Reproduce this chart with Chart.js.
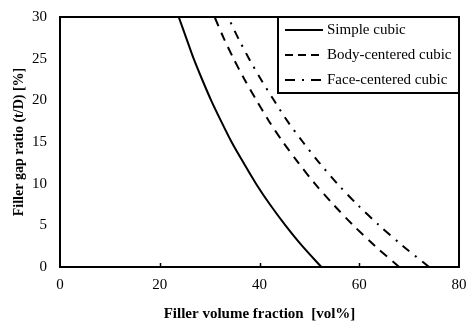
<!DOCTYPE html>
<html>
<head>
<meta charset="utf-8">
<script src="https://cdn.jsdelivr.net/npm/chart.js@4.4.0/dist/chart.umd.min.js"></script>
<style>
  html, body { margin: 0; padding: 0; background: #fff; }
  #wrap { width: 467px; height: 322px; }
</style>
</head>
<body>
<div id="wrap"><canvas id="grafico"></canvas></div>
<script>
// valores: relacion de separacion (t/D) [%]
const gapRatio = [0, 2.5, 5, 7.5, 10, 12.5, 15, 17.5, 20, 22.5, 25, 27.5, 30];
// fraccion de volumen [vol%] para cada estructura
const simpleCubic = [52.4, 48.6, 45.2, 42.1, 39.3, 36.8, 34.4, 32.3, 30.3, 28.5, 26.8, 25.3, 23.8];
const bodyCentered = [68.0, 63.2, 58.8, 54.8, 51.1, 47.8, 44.7, 41.9, 39.4, 37.0, 34.8, 32.8, 31.0];
const faceCentered = [74.0, 68.8, 64.0, 59.6, 55.6, 52.0, 48.7, 45.6, 42.9, 40.3, 37.9, 35.7, 33.7];
const seriesNames = ['Simple cubic', 'Body-centered cubic', 'Face-centered cubic'];
const xTicks = [0, 20, 40, 60, 80];
const yTicks = [0, 5, 10, 15, 20, 25, 30];

const fuente = '"Liberation Serif", "Times New Roman", serif';
const dashes = [[], [9, 7], [9, 7, 2, 7]];
const dashesLeyenda = [[], [8, 5], [10, 7, 2, 7]];

function puntos(xs){
    return xs.map((x, i) => ({ x: x, y: gapRatio[i] }));
}

// marco, marcas interiores y leyenda con borde
const marcoPlugin = {
    id: 'marco',
    afterDraw(chart){
        const ctx = chart.ctx;
        const a = chart.chartArea;
        const xs = chart.scales.x;
        ctx.save();
        ctx.strokeStyle = '#000';
        ctx.lineWidth = 2;
        ctx.setLineDash([]);
        ctx.strokeRect(a.left, a.top, a.right - a.left, a.bottom - a.top);
        ctx.lineWidth = 1.5;
        xTicks.slice(1, -1).forEach(v => {
            const px = Math.round(xs.getPixelForValue(v)) + 0.5;
            ctx.beginPath();
            ctx.moveTo(px, a.bottom);
            ctx.lineTo(px, a.bottom - 4);
            ctx.stroke();
        });
        // leyenda
        const lx = 278, ly = a.top, lw = a.right - lx, lh = 76;
        ctx.fillStyle = '#fff';
        ctx.fillRect(lx, ly, lw, lh);
        ctx.lineWidth = 2;
        ctx.strokeRect(lx, ly, lw, lh);
        ctx.font = '15px ' + fuente;
        ctx.textBaseline = 'middle';
        ctx.fillStyle = '#000';
        seriesNames.forEach((n, i) => {
            const y = ly + 13 + i * 25;
            ctx.setLineDash(dashesLeyenda[i]);
            ctx.lineWidth = 2;
            ctx.beginPath();
            ctx.moveTo(285, y);
            ctx.lineTo(323, y);
            ctx.stroke();
            ctx.setLineDash([]);
            ctx.fillText(n, 327, y);
        });
        ctx.restore();
    }
};

const datasets = [simpleCubic, bodyCentered, faceCentered].map((d, i) => ({
    label: seriesNames[i],
    data: puntos(d),
    borderColor: '#000',
    borderWidth: 2,
    borderDash: dashes[i],
    pointRadius: 0,
    showLine: true,
    tension: 0.3,
    fill: false
}));

new Chart(document.getElementById('grafico'), {
    type: 'scatter',
    data: { datasets: datasets },
    options: {
        responsive: true,
        maintainAspectRatio: false,
        animation: false,
        layout: { padding: { top: 17, right: 8, left: 0, bottom: 0 } },
        plugins: {
            legend: { display: false },
            tooltip: { enabled: false }
        },
        scales: {
            x: {
                type: 'linear',
                min: 0, max: 80,
                afterBuildTicks(s){ s.ticks = xTicks.map(v => ({ value: v })); },
                grid: { display: false },
                border: { display: false },
                ticks: { color: '#000', font: { family: fuente, size: 15 }, padding: 1, maxRotation: 0 },
                title: {
                    display: true,
                    text: 'Filler volume fraction  [vol%]',
                    color: '#000',
                    font: { family: fuente, size: 15, weight: 'bold' },
                    padding: { top: 10, bottom: -1 }
                },
                afterFit(s){
                    s.height = 55;
                    s.paddingLeft = 0;
                    s.paddingRight = 0;
                }
            },
            y: {
                type: 'linear',
                min: 0, max: 30,
                afterBuildTicks(s){ s.ticks = yTicks.map(v => ({ value: v })); },
                grid: { display: false },
                border: { display: false },
                ticks: { color: '#000', font: { family: fuente, size: 15 }, padding: 5 },
                title: {
                    display: true,
                    text: 'Filler gap ratio (t/D) [%]',
                    color: '#000',
                    font: { family: fuente, size: 14, weight: 'bold' },
                    padding: { top: 11, bottom: 4 }
                },
                afterFit(s){
                    s.width = 60;
                    s.paddingTop = 0;
                    s.paddingBottom = 0;
                }
            }
        }
    },
    plugins: [marcoPlugin]
});
</script>
</body>
</html>
